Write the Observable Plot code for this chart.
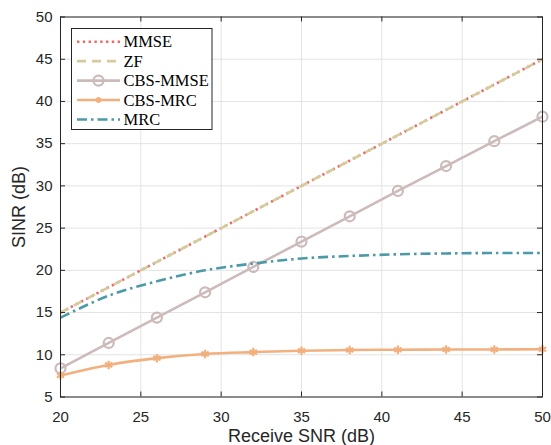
<!DOCTYPE html>
<html>
<head>
<meta charset="utf-8">
<script src="https://cdn.jsdelivr.net/npm/d3@7"></script>
<script src="https://cdn.jsdelivr.net/npm/@observablehq/plot@0.6"></script>
<style>
  html, body { margin: 0; padding: 0; background: #fff; }
  #wrap { position: relative; width: 551px; height: 445px; }
  #legend { position: absolute; left: 0; top: 0; }
</style>
</head>
<body>
<div id="wrap"></div>
<script>
// ---- data ----
const snr = [20, 23, 26, 29, 32, 35, 38, 41, 44, 47, 50];
const mmse = [15, 18, 21, 24, 27, 30, 33, 36, 39, 42, 45];
const zf = [15, 18, 21, 24, 27, 30, 33, 36, 39, 42, 45];
const cbsMmse = [8.4, 11.4, 14.4, 17.4, 20.4, 23.4, 26.4, 29.4, 32.35, 35.3, 38.2];
const cbsMrc = [7.55, 8.8, 9.6, 10.1, 10.32, 10.48, 10.56, 10.6, 10.62, 10.63, 10.65];
const mrc = [14.4, 17.0, 18.7, 20.0, 20.8, 21.4, 21.7, 21.9, 22.0, 22.05, 22.05];
const seriesNames = ["MMSE", "ZF", "CBS-MMSE", "CBS-MRC", "MRC"];
const xTicks = [20, 25, 30, 35, 40, 45, 50];
const yTicks = [5, 10, 15, 20, 25, 30, 35, 40, 45, 50];

// ---- styles ----
const colors = {MMSE: "#ee6868", ZF: "#d4cc9c", "CBS-MMSE": "#cdbaba", "CBS-MRC": "#f3b07f", MRC: "#4b9aa8"};
const dashes = {MMSE: "2.4,3.4", ZF: "9,6", "CBS-MMSE": null, "CBS-MRC": null, MRC: "10,4,2.5,4"};
const valuesBy = {MMSE: mmse, ZF: zf, "CBS-MMSE": cbsMmse, "CBS-MRC": cbsMrc, MRC: mrc};
const rows = seriesNames.map(name => snr.map((x, i) => ({x, y: valuesBy[name][i], name})));

const axisColor = "#262626";
const gridColor = "#e3e3e3";
const W = 551, H = 445;
const mL = 60, mR = 9, mT = 16.5, mB = 48.5;
const innerW = W - mL - mR, innerH = H - mT - mB;
const tickLen = 5;

function lineMark(name, curve) {
  return Plot.line(rows[seriesNames.indexOf(name)], {
    x: "x", y: "y", stroke: colors[name], strokeWidth: 2.6,
    strokeDasharray: dashes[name], curve: curve || "linear",
    strokeLinecap: "butt"
  });
}

const chart = Plot.plot({
  width: W, height: H,
  marginLeft: mL, marginRight: mR, marginTop: mT, marginBottom: mB,
  style: {fontFamily: "'Liberation Sans', Arial, sans-serif", fontSize: "15px", color: axisColor, background: "#fff"},
  x: {domain: [20, 50]},
  y: {domain: [5, 50]},
  marks: [
    Plot.gridX(xTicks, {stroke: gridColor, strokeOpacity: 1}),
    Plot.gridY(yTicks, {stroke: gridColor, strokeOpacity: 1}),
    lineMark("MMSE"),
    lineMark("ZF"),
    lineMark("CBS-MMSE"),
    Plot.dot(rows[2], {x: "x", y: "y", r: 5, stroke: colors["CBS-MMSE"], strokeWidth: 2.2, fill: "none"}),
    lineMark("CBS-MRC", "monotone-x"),
    Plot.dot(rows[3], {x: "x", y: "y", r: 4, symbol: "asterisk", stroke: colors["CBS-MRC"], strokeWidth: 2.2}),
    lineMark("MRC", "catmull-rom"),
    // tick labels + axis titles
    Plot.axisX(xTicks, {anchor: "bottom", tickSize: 0, tickPadding: 14, fill: axisColor, fontSize: 15, label: null}),
    Plot.axisY(yTicks, {anchor: "left", tickSize: 0, tickPadding: 8, fill: axisColor, fontSize: 15, label: null}),
    Plot.axisX({anchor: "bottom", ticks: [], label: "Receive SNR (dB)", labelAnchor: "center",
      labelOffset: 45, labelArrow: "none", fontSize: 18, fill: axisColor}),
    Plot.axisY({anchor: "left", ticks: [], label: "SINR (dB)", labelAnchor: "center",
      labelOffset: 48, labelArrow: "none", fontSize: 18, fill: axisColor}),
    // inward ticks on all four sides
    Plot.ruleX(xTicks, {stroke: axisColor, insetTop: innerH - tickLen}),
    Plot.ruleX(xTicks, {stroke: axisColor, insetBottom: innerH - tickLen}),
    Plot.ruleY(yTicks, {stroke: axisColor, insetRight: innerW - tickLen}),
    Plot.ruleY(yTicks, {stroke: axisColor, insetLeft: innerW - tickLen}),
    Plot.frame({stroke: axisColor, strokeWidth: 1})
  ]
});
const wrap = document.getElementById("wrap");
wrap.appendChild(chart);

// ---- legend (overlay) ----
const lg = d3.select(wrap).append("svg").attr("id", "legend").attr("width", W).attr("height", H);
const box = {x: 71.5, y: 28.5, w: 140.5, h: 101};
lg.append("rect").attr("x", box.x).attr("y", box.y).attr("width", box.w).attr("height", box.h)
  .attr("fill", "#fff").attr("stroke", axisColor).attr("stroke-width", 1);
seriesNames.forEach((name, i) => {
  const cy = 41.7 + i * 19.45;
  const g = lg.append("g");
  g.append("line").attr("x1", 77).attr("x2", 120).attr("y1", cy).attr("y2", cy)
    .attr("stroke", colors[name]).attr("stroke-width", 2.6)
    .attr("stroke-dasharray", dashes[name]);
  if (name === "CBS-MMSE") {
    g.append("circle").attr("cx", 98.5).attr("cy", cy).attr("r", 5)
      .attr("fill", "none").attr("stroke", colors[name]).attr("stroke-width", 2.2);
  }
  if (name === "CBS-MRC") {
    g.append("path").attr("transform", `translate(98.5,${cy})`)
      .attr("d", d3.symbol(d3.symbolAsterisk, Math.pow(4 * 1.25, 2)))
      .attr("fill", "none").attr("stroke", colors[name]).attr("stroke-width", 2.2);
  }
  g.append("text").attr("x", 123.5).attr("y", cy).attr("dy", "0.35em")
    .attr("font-family", "'Liberation Serif', 'Times New Roman', serif")
    .attr("font-size", 16.5).attr("fill", "#000").text(name);
});
</script>
</body>
</html>
